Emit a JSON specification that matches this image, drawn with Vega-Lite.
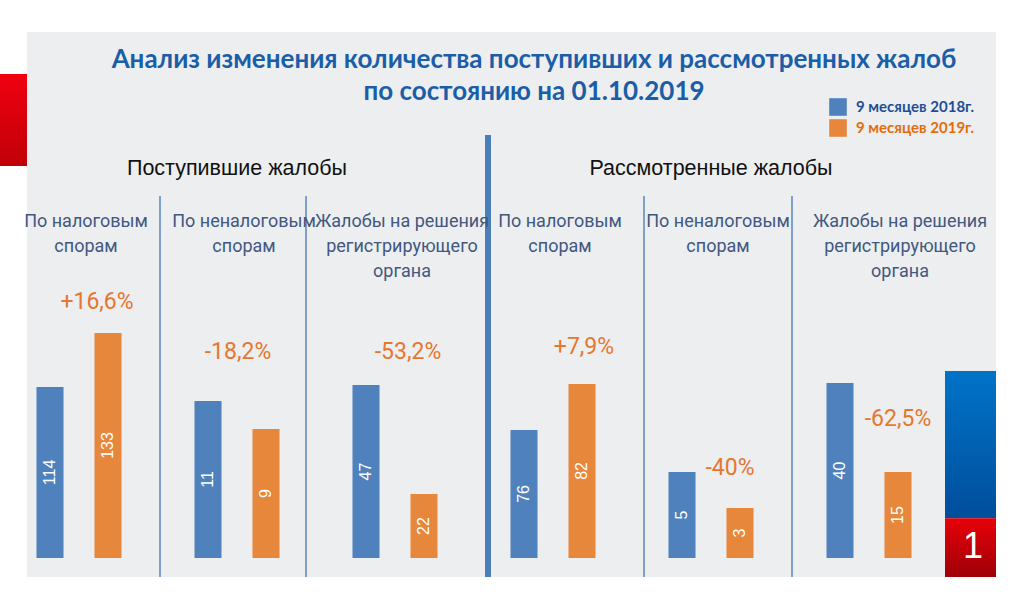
{
  "$schema": "https://vega.github.io/schema/vega-lite/v6.json",
  "width": 969,
  "height": 545,
  "autosize": {"type": "none"},
  "padding": {"left": 27, "top": 32, "right": 28, "bottom": 28},
  "background": "#FFFFFF",
  "config": {
    "view": {"fill": "#EDEEF0", "stroke": null},
    "legend": {
      "orient": "none", "legendX": 802, "legendY": 66, "title": null,
      "symbolType": "square", "symbolSize": 310, "symbolStrokeWidth": 0,
      "labelFont": "Lato", "labelFontWeight": "bold", "labelFontSize": 15,
      "labelOffset": 9, "rowPadding": 3, "padding": 0
    }
  },
  "datasets": {
    "main": [
      {"g": "g1", "section": "Поступившие жалобы", "name": "По налоговым\nспорам", "year": "9 месяцев 2018г.", "value": 114, "change": "+16,6%"},
      {"g": "g1", "section": "Поступившие жалобы", "name": "По налоговым\nспорам", "year": "9 месяцев 2019г.", "value": 133, "change": "+16,6%"},
      {"g": "g2", "section": "Поступившие жалобы", "name": "По неналоговым\nспорам", "year": "9 месяцев 2018г.", "value": 11, "change": "-18,2%"},
      {"g": "g2", "section": "Поступившие жалобы", "name": "По неналоговым\nспорам", "year": "9 месяцев 2019г.", "value": 9, "change": "-18,2%"},
      {"g": "g3", "section": "Поступившие жалобы", "name": "Жалобы на решения\nрегистрирующего\nоргана", "year": "9 месяцев 2018г.", "value": 47, "change": "-53,2%"},
      {"g": "g3", "section": "Поступившие жалобы", "name": "Жалобы на решения\nрегистрирующего\nоргана", "year": "9 месяцев 2019г.", "value": 22, "change": "-53,2%"},
      {"g": "g4", "section": "Рассмотренные жалобы", "name": "По налоговым\nспорам", "year": "9 месяцев 2018г.", "value": 76, "change": "+7,9%"},
      {"g": "g4", "section": "Рассмотренные жалобы", "name": "По налоговым\nспорам", "year": "9 месяцев 2019г.", "value": 82, "change": "+7,9%"},
      {"g": "g5", "section": "Рассмотренные жалобы", "name": "По неналоговым\nспорам", "year": "9 месяцев 2018г.", "value": 5, "change": "-40%"},
      {"g": "g5", "section": "Рассмотренные жалобы", "name": "По неналоговым\nспорам", "year": "9 месяцев 2019г.", "value": 3, "change": "-40%"},
      {"g": "g6", "section": "Рассмотренные жалобы", "name": "Жалобы на решения\nрегистрирующего\nоргана", "year": "9 месяцев 2018г.", "value": 40, "change": "-62,5%"},
      {"g": "g6", "section": "Рассмотренные жалобы", "name": "Жалобы на решения\nрегистрирующего\nоргана", "year": "9 месяцев 2019г.", "value": 15, "change": "-62,5%"}
    ]
  },
  "data": {"name": "main"},
  "encoding": {
    "x": {"field": "g", "type": "nominal", "scale": {"type": "band", "domain": ["left", "g1", "g2", "g3", "g4", "g5", "g6", "right"], "range": [-185, 1079], "paddingInner": 0, "paddingOuter": 0}, "axis": null}
  },
  "layer": [
    {
      "layer": [
        {
          "data": {"values": [{"g": "g2"}, {"g": "g6"}]},
          "mark": {"type": "rule", "color": "#5B86C0", "strokeWidth": 1.5, "xOffset": 2},
          "encoding": {
            "x": {"field": "g", "type": "nominal", "bandPosition": 0},
            "y": {"datum": 0.699, "type": "quantitative", "scale": {"domain": [0, 1], "nice": false}, "axis": null},
            "y2": {"datum": 0}
          }
        },
        {
          "data": {"values": [{"g": "g3"}]},
          "mark": {"type": "rule", "color": "#5B86C0", "strokeWidth": 1.5, "xOffset": -10},
          "encoding": {
            "x": {"field": "g", "type": "nominal", "bandPosition": 0},
            "y": {"datum": 0.699, "type": "quantitative", "scale": {"domain": [0, 1], "nice": false}, "axis": null},
            "y2": {"datum": 0}
          }
        },
        {
          "data": {"values": [{"g": "g5"}]},
          "mark": {"type": "rule", "color": "#5B86C0", "strokeWidth": 1.5, "xOffset": 12},
          "encoding": {
            "x": {"field": "g", "type": "nominal", "bandPosition": 0},
            "y": {"datum": 0.699, "type": "quantitative", "scale": {"domain": [0, 1], "nice": false}, "axis": null},
            "y2": {"datum": 0}
          }
        },
        {
          "data": {"values": [{"g": "g4"}]},
          "mark": {"type": "rule", "color": "#4A7EBB", "strokeWidth": 6, "xOffset": 14},
          "encoding": {
            "x": {"field": "g", "type": "nominal", "bandPosition": 0},
            "y": {"datum": 0.811, "type": "quantitative", "scale": {"domain": [0, 1], "nice": false}, "axis": null},
            "y2": {"datum": 0}
          }
        },
        {
          "data": {"values": [{"t": "Анализ изменения количества поступивших и рассмотренных жалоб\nпо состоянию на 01.10.2019"}]},
          "mark": {"type": "text", "font": "Lato", "fontWeight": "bold", "fontSize": 26, "color": "#1B5EA8", "align": "center", "baseline": "alphabetic", "lineBreak": "\n", "lineHeight": 32, "dx": -19},
          "encoding": {
            "x": {"datum": "g4"},
            "y": {"datum": 0.934, "type": "quantitative", "scale": {"domain": [0, 1], "nice": false}, "axis": null},
            "text": {"field": "t"}
          }
        },
        {
          "transform": [{"filter": "(datum.g == 'g2' || datum.g == 'g5') && datum.year == '9 месяцев 2018г.'"}],
          "mark": {"type": "text", "font": "Liberation Sans", "fontSize": 21.5, "color": "#111111", "align": "center", "baseline": "middle"},
          "encoding": {
            "y": {"datum": 0.7495, "type": "quantitative", "scale": {"domain": [0, 1], "nice": false}, "axis": null},
            "text": {"field": "section"}
          }
        },
        {
          "transform": [{"filter": "datum.g != 'g6' && datum.year == '9 месяцев 2018г.'"}],
          "mark": {"type": "text", "font": "Roboto", "fontSize": 18, "color": "#41587F", "align": "center", "baseline": "top", "lineBreak": "\n", "lineHeight": 25, "dx": 7},
          "encoding": {
            "y": {"datum": 0.668, "type": "quantitative", "scale": {"domain": [0, 1], "nice": false}, "axis": null},
            "text": {"field": "name"}
          }
        },
        {
          "transform": [{"filter": "datum.g == 'g6' && datum.year == '9 месяцев 2018г.'"}],
          "mark": {"type": "text", "font": "Roboto", "fontSize": 18, "color": "#41587F", "align": "center", "baseline": "top", "lineBreak": "\n", "lineHeight": 25, "dx": 31},
          "encoding": {
            "y": {"datum": 0.668, "type": "quantitative", "scale": {"domain": [0, 1], "nice": false}, "axis": null},
            "text": {"field": "name"}
          }
        },
        {
          "data": {"values": [{"k": "page"}]},
          "mark": {"type": "bar", "width": 51, "xOffset": -56.5, "color": {"gradient": "linear", "x1": 0, "y1": 0, "x2": 0, "y2": 1, "stops": [{"offset": 0, "color": "#0073C8"}, {"offset": 1, "color": "#004E9C"}]}},
          "encoding": {
            "x": {"datum": "right"},
            "y": {"datum": 0.378, "type": "quantitative", "scale": {"domain": [0, 1], "nice": false}, "axis": null},
            "y2": {"datum": 0.108}
          }
        },
        {
          "data": {"values": [{"k": "page"}]},
          "mark": {"type": "bar", "width": 51, "xOffset": -56.5, "color": {"gradient": "linear", "x1": 0, "y1": 0, "x2": 0, "y2": 1, "stops": [{"offset": 0, "color": "#E8000B"}, {"offset": 1, "color": "#9E0006"}]}},
          "encoding": {
            "x": {"datum": "right"},
            "y": {"datum": 0.108, "type": "quantitative", "scale": {"domain": [0, 1], "nice": false}, "axis": null},
            "y2": {"datum": 0}
          }
        },
        {
          "data": {"values": [{"k": "1"}]},
          "mark": {"type": "text", "font": "Liberation Sans", "fontSize": 36, "color": "#FFFFFF", "align": "center", "baseline": "middle", "dx": -54},
          "encoding": {
            "x": {"datum": "right"},
            "y": {"datum": 0.055, "type": "quantitative", "scale": {"domain": [0, 1], "nice": false}, "axis": null},
            "text": {"field": "k"}
          }
        },
        {
          "data": {"values": [{"k": "side"}]},
          "mark": {"type": "bar", "width": 27, "xOffset": 92.5, "color": {"gradient": "linear", "x1": 0, "y1": 0, "x2": 0, "y2": 1, "stops": [{"offset": 0, "color": "#F00010"}, {"offset": 1, "color": "#C00008"}]}},
          "encoding": {
            "x": {"datum": "left"},
            "y": {"datum": 0.923, "type": "quantitative", "scale": {"domain": [0, 1], "nice": false}, "axis": null},
            "y2": {"datum": 0.754}
          }
        }
      ]
    },
    {
      "transform": [{"filter": "datum.g == 'g1'"}],
      "encoding": {
        "xOffset": {"field": "year", "type": "nominal", "scale": {"type": "band", "paddingInner": 0.534, "paddingOuter": 0.629}},
        "y": {"field": "value", "type": "quantitative", "scale": {"domain": [47.14, 238.9], "zero": false, "nice": false}, "axis": null}
      },
      "layer": [
        {"mark": {"type": "bar"}, "encoding": {"y2": {"datum": 53.83}, "color": {"field": "year", "type": "nominal", "scale": {"domain": ["9 месяцев 2018г.", "9 месяцев 2019г."], "range": ["#4F81BD", "#E7873C"]}, "legend": {"labelColor": {"expr": "datum.value == '9 месяцев 2018г.' ? '#1F4E96' : '#E46C0A'"}}}}},
        {"transform": [{"calculate": "(datum.value + 53.83) / 2", "as": "mid"}], "mark": {"type": "text", "angle": 270, "font": "Liberation Sans", "fontSize": 16, "color": "#FFFFFF", "align": "center", "baseline": "middle"}, "encoding": {"y": {"field": "mid", "type": "quantitative", "scale": {"domain": [47.14, 238.9], "zero": false, "nice": false}, "axis": null}, "text": {"field": "value", "type": "quantitative"}}},
        {"transform": [{"filter": "datum.year == '9 месяцев 2019г.'"}], "mark": {"type": "text", "font": "Roboto", "fontSize": 23, "color": "#E5772E", "align": "center", "baseline": "middle", "dx": -11, "dy": -31}, "encoding": {"text": {"field": "change"}}}
      ]
    },
    {
      "transform": [{"filter": "datum.g == 'g2'"}],
      "encoding": {
        "xOffset": {"field": "year", "type": "nominal", "scale": {"type": "band", "paddingInner": 0.534, "paddingOuter": 0.629}},
        "y": {"field": "value", "type": "quantitative", "scale": {"domain": [-1.57, 37.36], "zero": false, "nice": false}, "axis": null}
      },
      "layer": [
        {"mark": {"type": "bar"}, "encoding": {"y2": {"datum": -0.21}, "color": {"field": "year", "type": "nominal", "scale": {"domain": ["9 месяцев 2018г.", "9 месяцев 2019г."], "range": ["#4F81BD", "#E7873C"]}, "legend": {"labelColor": {"expr": "datum.value == '9 месяцев 2018г.' ? '#1F4E96' : '#E46C0A'"}}}}},
        {"transform": [{"calculate": "(datum.value - 0.21) / 2", "as": "mid"}], "mark": {"type": "text", "angle": 270, "font": "Liberation Sans", "fontSize": 16, "color": "#FFFFFF", "align": "center", "baseline": "middle"}, "encoding": {"y": {"field": "mid", "type": "quantitative", "scale": {"domain": [-1.57, 37.36], "zero": false, "nice": false}, "axis": null}, "text": {"field": "value", "type": "quantitative"}}},
        {"transform": [{"filter": "datum.year == '9 месяцев 2019г.'"}], "mark": {"type": "text", "font": "Roboto", "fontSize": 23, "color": "#E5772E", "align": "center", "baseline": "middle", "dx": -28, "dy": -77}, "encoding": {"text": {"field": "change"}}}
      ]
    },
    {
      "transform": [{"filter": "datum.g == 'g3'"}],
      "encoding": {
        "xOffset": {"field": "year", "type": "nominal", "scale": {"type": "band", "paddingInner": 0.534, "paddingOuter": 0.629}},
        "y": {"field": "value", "type": "quantitative", "scale": {"domain": [2.96, 127.96], "zero": false, "nice": false}, "axis": null}
      },
      "layer": [
        {"mark": {"type": "bar"}, "encoding": {"y2": {"datum": 7.32}, "color": {"field": "year", "type": "nominal", "scale": {"domain": ["9 месяцев 2018г.", "9 месяцев 2019г."], "range": ["#4F81BD", "#E7873C"]}, "legend": {"labelColor": {"expr": "datum.value == '9 месяцев 2018г.' ? '#1F4E96' : '#E46C0A'"}}}}},
        {"transform": [{"calculate": "(datum.value + 7.32) / 2", "as": "mid"}], "mark": {"type": "text", "angle": 270, "font": "Liberation Sans", "fontSize": 16, "color": "#FFFFFF", "align": "center", "baseline": "middle"}, "encoding": {"y": {"field": "mid", "type": "quantitative", "scale": {"domain": [2.96, 127.96], "zero": false, "nice": false}, "axis": null}, "text": {"field": "value", "type": "quantitative"}}},
        {"transform": [{"filter": "datum.year == '9 месяцев 2019г.'"}], "mark": {"type": "text", "font": "Roboto", "fontSize": 23, "color": "#E5772E", "align": "center", "baseline": "middle", "dx": -16, "dy": -142}, "encoding": {"text": {"field": "change"}}}
      ]
    },
    {
      "transform": [{"filter": "datum.g == 'g4'"}],
      "encoding": {
        "xOffset": {"field": "year", "type": "nominal", "scale": {"type": "band", "paddingInner": 0.534, "paddingOuter": 0.629}},
        "y": {"field": "value", "type": "quantitative", "scale": {"domain": [56.82, 127.91], "zero": false, "nice": false}, "axis": null}
      },
      "layer": [
        {"mark": {"type": "bar"}, "encoding": {"y2": {"datum": 59.3}, "color": {"field": "year", "type": "nominal", "scale": {"domain": ["9 месяцев 2018г.", "9 месяцев 2019г."], "range": ["#4F81BD", "#E7873C"]}, "legend": {"labelColor": {"expr": "datum.value == '9 месяцев 2018г.' ? '#1F4E96' : '#E46C0A'"}}}}},
        {"transform": [{"calculate": "(datum.value + 59.3) / 2", "as": "mid"}], "mark": {"type": "text", "angle": 270, "font": "Liberation Sans", "fontSize": 16, "color": "#FFFFFF", "align": "center", "baseline": "middle"}, "encoding": {"y": {"field": "mid", "type": "quantitative", "scale": {"domain": [56.82, 127.91], "zero": false, "nice": false}, "axis": null}, "text": {"field": "value", "type": "quantitative"}}},
        {"transform": [{"filter": "datum.year == '9 месяцев 2019г.'"}], "mark": {"type": "text", "font": "Roboto", "fontSize": 23, "color": "#E5772E", "align": "center", "baseline": "middle", "dx": 2, "dy": -37}, "encoding": {"text": {"field": "change"}}}
      ]
    },
    {
      "transform": [{"filter": "datum.g == 'g5'"}],
      "encoding": {
        "xOffset": {"field": "year", "type": "nominal", "scale": {"type": "band", "paddingInner": 0.534, "paddingOuter": 0.629}},
        "y": {"field": "value", "type": "quantitative", "scale": {"domain": [-0.83, 29.44], "zero": false, "nice": false}, "axis": null}
      },
      "layer": [
        {"mark": {"type": "bar"}, "encoding": {"y2": {"datum": 0.22}, "color": {"field": "year", "type": "nominal", "scale": {"domain": ["9 месяцев 2018г.", "9 месяцев 2019г."], "range": ["#4F81BD", "#E7873C"]}, "legend": {"labelColor": {"expr": "datum.value == '9 месяцев 2018г.' ? '#1F4E96' : '#E46C0A'"}}}}},
        {"transform": [{"calculate": "(datum.value + 0.22) / 2", "as": "mid"}], "mark": {"type": "text", "angle": 270, "font": "Liberation Sans", "fontSize": 16, "color": "#FFFFFF", "align": "center", "baseline": "middle"}, "encoding": {"y": {"field": "mid", "type": "quantitative", "scale": {"domain": [-0.83, 29.44], "zero": false, "nice": false}, "axis": null}, "text": {"field": "value", "type": "quantitative"}}},
        {"transform": [{"filter": "datum.year == '9 месяцев 2019г.'"}], "mark": {"type": "text", "font": "Roboto", "fontSize": 23, "color": "#E5772E", "align": "center", "baseline": "middle", "dx": -10, "dy": -40}, "encoding": {"text": {"field": "change"}}}
      ]
    },
    {
      "transform": [{"filter": "datum.g == 'g6'"}],
      "encoding": {
        "xOffset": {"field": "year", "type": "nominal", "scale": {"type": "band", "paddingInner": 0.534, "paddingOuter": 0.629}},
        "y": {"field": "value", "type": "quantitative", "scale": {"domain": [-14.5, 138.6], "zero": false, "nice": false}, "axis": null}
      },
      "layer": [
        {"mark": {"type": "bar"}, "encoding": {"y2": {"datum": -9.16}, "color": {"field": "year", "type": "nominal", "scale": {"domain": ["9 месяцев 2018г.", "9 месяцев 2019г."], "range": ["#4F81BD", "#E7873C"]}, "legend": {"labelColor": {"expr": "datum.value == '9 месяцев 2018г.' ? '#1F4E96' : '#E46C0A'"}}}}},
        {"transform": [{"calculate": "(datum.value - 9.16) / 2", "as": "mid"}], "mark": {"type": "text", "angle": 270, "font": "Liberation Sans", "fontSize": 16, "color": "#FFFFFF", "align": "center", "baseline": "middle"}, "encoding": {"y": {"field": "mid", "type": "quantitative", "scale": {"domain": [-14.5, 138.6], "zero": false, "nice": false}, "axis": null}, "text": {"field": "value", "type": "quantitative"}}},
        {"transform": [{"filter": "datum.year == '9 месяцев 2019г.'"}], "mark": {"type": "text", "font": "Roboto", "fontSize": 23, "color": "#E5772E", "align": "center", "baseline": "middle", "dx": 0, "dy": -53}, "encoding": {"text": {"field": "change"}}}
      ]
    }
  ],
  "resolve": {"scale": {"y": "independent"}}
}
